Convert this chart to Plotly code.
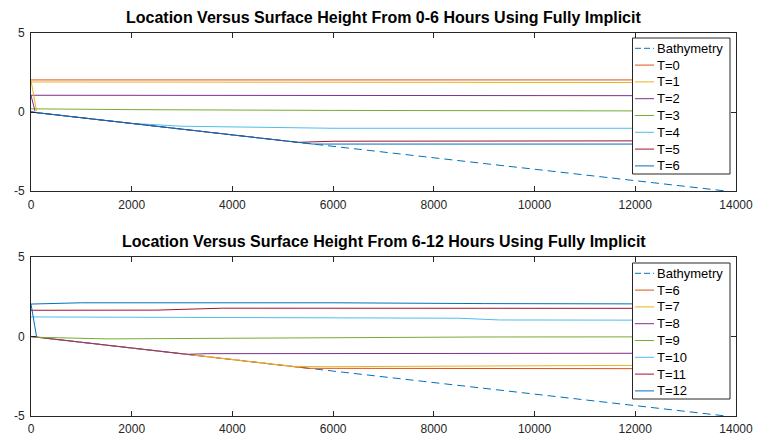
import plotly.graph_objects as go

# ---------------- data ----------------
colors = ["#0072BD", "#D95319", "#EDB120", "#7E2F8E", "#77AC30", "#4DBEEE", "#A2142F", "#0072BD"]

bathy_x = [0, 13800]
bathy_y = [0, -5]

# top panel (0-6 hours)
top_names = ["T=0", "T=1", "T=2", "T=3", "T=4", "T=5", "T=6"]
top_x = [
    [0, 13800],
    [0, 13800],
    [0, 13800],
    [0, 2000, 6000, 13800],
    [0, 2000, 3000, 4000, 5000, 6000, 13800],
    [0, 5300, 6000, 13800],
    [0, 5600, 13800],
]
top_y = [
    [2.03, 2.03],
    [1.9, 1.86],
    [1.06, 1.03],
    [0.2, 0.15, 0.1, 0.06],
    [0, -0.72, -0.9, -0.95, -1.0, -1.03, -1.03],
    [0, -1.92, -1.85, -1.82],
    [0, -2.03, -2.03],
]
# short boundary segments near x=0 (series index, x, y)
top_bnd = [
    (1, [0, 110], [2.0, 0.05]),
    (2, [0, 80], [1.06, 0.05]),
]

# bottom panel (6-12 hours)
bot_names = ["T=6", "T=7", "T=8", "T=9", "T=10", "T=11", "T=12"]
bot_x = [
    [0, 5500, 13800],
    [0, 5200, 5800, 9000, 13800],
    [0, 3100, 3500, 13800],
    [0, 150, 1500, 3000, 6000, 9000, 13800],
    [0, 6000, 8500, 9300, 13800],
    [0, 2500, 3800, 13800],
    [0, 1000, 6000, 9000, 13800],
]
bot_y = [
    [0, -2.0, -2.03],
    [0, -1.88, -1.9, -1.85, -1.79],
    [0, -1.12, -1.08, -1.05],
    [0, -0.05, -0.15, -0.12, -0.07, -0.03, -0.02],
    [1.23, 1.2, 1.15, 1.04, 1.02],
    [1.65, 1.66, 1.78, 1.77],
    [2.04, 2.12, 2.12, 2.07, 2.04],
]
bot_bnd = [
    (6, [0, 110], [2.04, 0.0]),
]

titles = [
    "Location Versus Surface Height From 0-6 Hours Using Fully Implicit",
    "Location Versus Surface Height From 6-12 Hours Using Fully Implicit",
]
x_ticks = [0, 2000, 4000, 6000, 8000, 10000, 12000, 14000]
x_ticktext = ["0", "2000", "4000", "6000", "8000", "10000", "12000", "14000"]
y_ticks = [-5, 0, 5]
y_ticktext = ["-5", "0", "5"]

# ---------------- figure ----------------
W, H = 759, 438
ml, mr, mt, mb = 31, 23, 33, 22
ph = H - mt - mb
pw = W - ml - mr
def py(px):
    return (H - mb - px) / ph
def pxp(px):
    return (px - ml) / pw

fig = go.Figure()
FONT = "Liberation Sans, Arial, Helvetica, sans-serif"
AX = "#262626"
DASH = "8px,5px"

panels = [
    ("x", "y", top_names, top_x, top_y, top_bnd),
    ("x2", "y2", bot_names, bot_x, bot_y, bot_bnd),
]
for xa, ya, names, xs, ys, bnd in panels:
    fig.add_trace(go.Scatter(x=bathy_x, y=bathy_y, mode="lines", name="Bathymetry",
                             line=dict(color=colors[0], width=1, dash=DASH),
                             xaxis=xa, yaxis=ya, showlegend=False))
    for i, (n, xx, yy) in enumerate(zip(names, xs, ys)):
        fig.add_trace(go.Scatter(x=xx, y=yy, mode="lines", name=n,
                                 line=dict(color=colors[i + 1], width=1),
                                 xaxis=xa, yaxis=ya, showlegend=False))
    for idx, bx, by in bnd:
        fig.add_trace(go.Scatter(x=bx, y=by, mode="lines", showlegend=False,
                                 line=dict(color=colors[idx + 1], width=1),
                                 xaxis=xa, yaxis=ya))

axis_common = dict(showline=True, mirror="ticks", linecolor=AX, linewidth=1,
                   ticks="inside", ticklen=5, tickcolor=AX, tickwidth=1,
                   showgrid=False, zeroline=False, automargin=False,
                   tickfont=dict(family=FONT, size=12, color=AX))

d1 = [py(191), py(33)]
d2 = [py(416), py(257)]

fig.update_layout(
    width=W, height=H,
    margin=dict(l=ml, r=mr, t=mt, b=mb, autoexpand=False),
    paper_bgcolor="white", plot_bgcolor="white",
    font=dict(family=FONT, size=12, color=AX),
    xaxis=dict(domain=[0, 1], range=[0, 14000], tickvals=x_ticks, ticktext=x_ticktext,
               anchor="y", ticklabelstandoff=3, **axis_common),
    yaxis=dict(domain=d1, range=[-5, 5], tickvals=y_ticks, ticktext=y_ticktext,
               anchor="x", ticklabelstandoff=3, **axis_common),
    xaxis2=dict(domain=[0, 1], range=[0, 14000], tickvals=x_ticks, ticktext=x_ticktext,
                anchor="y2", ticklabelstandoff=2, **axis_common),
    yaxis2=dict(domain=d2, range=[-5, 5], tickvals=y_ticks, ticktext=y_ticktext,
                anchor="x2", ticklabelstandoff=3, **axis_common),
    showlegend=False,
)

# custom MATLAB-style legends
legend_boxes = [(38, 174, 48.3, top_names), (263, 399, 273.3, bot_names)]
row_h = 16.8
box_l, box_r = 632.5, 730
samp_l, samp_r, text_l = 635, 654, 656
for top, bot, first, names in legend_boxes:
    fig.add_shape(type="rect", xref="paper", yref="paper",
                  x0=pxp(box_l), x1=pxp(box_r), y0=py(bot), y1=py(top),
                  line=dict(color=AX, width=1), fillcolor="white", layer="above")
    labels = ["Bathymetry"] + names
    for k, lab in enumerate(labels):
        yc = first + k * row_h
        fig.add_shape(type="line", xref="paper", yref="paper",
                      x0=pxp(samp_l), x1=pxp(samp_r), y0=py(yc), y1=py(yc),
                      line=dict(color=colors[k], width=1, dash="6px,3px" if k == 0 else "solid"),
                      layer="above")
        fig.add_annotation(text=lab, x=pxp(text_l), y=py(yc), xref="paper", yref="paper",
                           xanchor="left", yanchor="middle", showarrow=False,
                           font=dict(family=FONT, size=13, color="black"),
                           borderpad=0)

for t, yc in zip(titles, [18, 242]):
    fig.add_annotation(text="<b>" + t + "</b>", x=0.5, y=py(yc), xref="paper", yref="paper",
                       xanchor="center", yanchor="middle", showarrow=False,
                       font=dict(family=FONT, size=16, color="black"))

fig.write_html("out.html")
